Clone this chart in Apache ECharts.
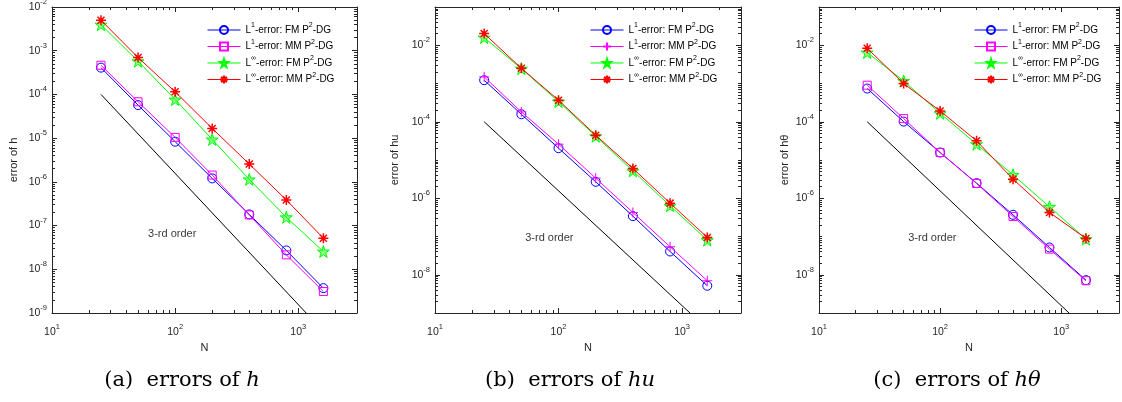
<!DOCTYPE html>
<html>
<head>
<meta charset="utf-8">
<script src="https://cdn.jsdelivr.net/npm/echarts@6/dist/echarts.min.js"></script>
<style>html,body{margin:0;padding:0;background:#fff}#c{width:1122px;height:402px}</style>
</head>
<body>
<div id="c"></div>
<script>
// ---------- data ----------
const N = [25, 50, 100, 200, 400, 800, 1600];
// (a) errors of h
const hL1FM   = [4.1e-4, 5.7e-5, 8.3e-6, 1.2e-6, 1.8e-7, 2.7e-8, 3.7e-9];
const hL1MM   = [4.65e-4, 6.8e-5, 1.04e-5, 1.43e-6, 1.75e-7, 2.14e-8, 3.1e-9];
const hLiFM   = [3.95e-3, 5.75e-4, 7.65e-5, 9.35e-6, 1.14e-6, 1.55e-7, 2.55e-8];
const hLiMM   = [4.97e-3, 6.97e-4, 1.15e-4, 1.67e-5, 2.56e-6, 3.86e-7, 5.14e-8];
// (b) errors of hu
const huL1FM  = [1.22e-3, 1.57e-4, 2.04e-5, 2.69e-6, 3.41e-7, 4.06e-8, 5.15e-9];
const huL1MM  = [1.49e-3, 1.81e-4, 2.59e-5, 3.35e-6, 4.25e-7, 5.38e-8, 6.97e-9];
const huLiFM  = [1.59e-2, 2.45e-3, 3.37e-4, 4.19e-5, 5.2e-6, 6.34e-7, 8.05e-8];
const huLiMM  = [2.02e-2, 2.5e-3, 3.66e-4, 4.45e-5, 6.0e-6, 7.45e-7, 9.45e-8];
// (c) errors of h theta
const htL1FM  = [7.38e-4, 1.01e-4, 1.57e-5, 2.48e-6, 3.69e-7, 5.17e-8, 7.24e-9];
const htL1MM  = [9.02e-4, 1.21e-4, 1.57e-5, 2.43e-6, 3.34e-7, 4.68e-8, 6.97e-9];
const htLiFM  = [6.45e-3, 1.17e-3, 1.67e-4, 2.59e-5, 4.09e-6, 5.97e-7, 8.55e-8];
const htLiMM  = [8.35e-3, 9.97e-4, 1.92e-4, 3.17e-5, 3.16e-6, 4.26e-7, 8.9e-8];
// 3rd-order reference line
const refN   = [25, 1160];
const refErr = [1e-4, 1e-9];
// "3-rd order" annotation anchor (data space)
const orderTextN   = [94.7, 84.3, 86.3];
const orderTextErr = [6.4e-8, 9.1e-8, 9.1e-8];

// ---------- ticks / labels ----------
const xTicks = [10, 100, 1000];
const xTickExp = ['1', '2', '3'];
const yTicksA = [1e-9, 1e-8, 1e-7, 1e-6, 1e-5, 1e-4, 1e-3, 1e-2];
const yTickExpA = ['-9', '-8', '-7', '-6', '-5', '-4', '-3', '-2'];
const yTicksBC = [1e-8, 1e-6, 1e-4, 1e-2];
const yTickExpBC = ['-8', '-6', '-4', '-2'];
const yLabels = ['error of h', 'error of hu', 'error of h\u03b8'];
const xLabel = 'N';
const captions = [
  '{r|(a)  errors of }{i|h}',
  '{r|(b)  errors of }{i|hu}',
  '{r|(c)  errors of }{i|h\u03b8}'
];
const legendText = [
  '{b|L}{e|1}{b|-error: FM P}{e|2}{b|-DG}',
  '{b|L}{e|1}{b|-error: MM P}{e|2}{b|-DG}',
  '{b|L}{e|\u221e}{b|-error: FM P}{e|2}{b|-DG}',
  '{b|L}{e|\u221e}{b|-error: MM P}{e|2}{b|-DG}'
];

function minorTicks(loExp, hiExp, max, skipMajors) {
  const out = [];
  for (let e = loExp; e < hiExp; e++) {
    for (let m = 1; m <= 9; m++) {
      const v = parseFloat((m * Math.pow(10, e)).toPrecision(6));
      if (v > max) continue;
      if (skipMajors.some(t => Math.abs(t - v) / v < 1e-9)) continue;
      out.push(v);
    }
  }
  return out;
}
const xMinor = minorTicks(1, 4, 3000, xTicks);
const yMinorA = minorTicks(-9, -2, 1e-2, yTicksA);
const yMinorBC = minorTicks(-9, -1, 1e-1, yTicksBC);

// ---------- styling ----------
const AX = '#262626';
const FONT = '"Liberation Sans", Arial, sans-serif';
const richTick = {
  b: { fontSize: 10.5, lineHeight: 18, color: AX, fontFamily: FONT },
  e: { fontSize: 7.5, lineHeight: 8, verticalAlign: 'top', color: AX, fontFamily: FONT }
};
const grids = [
  { left: 52, top: 7, width: 305, height: 306 },
  { left: 435, top: 7, width: 306, height: 306 },
  { left: 819, top: 7, width: 300, height: 306 }
];
const yRanges = [[1e-9, 1e-2], [1e-9, 1e-1], [1e-9, 1e-1]];
const yMaj = [yTicksA, yTicksBC, yTicksBC];
const yExp = [yTickExpA, yTickExpBC, yTickExpBC];
const yMin = [yMinorA, yMinorBC, yMinorBC];
const yNameGap = [33, 35, 29];

const xAxes = [], yAxes = [];
function mkAxis(kind, g, pos, ticks, isMajor, withLabel, range, extra) {
  const ax = {
    type: 'log', logBase: 10, gridIndex: g, position: pos,
    min: range[0], max: range[1],
    splitLine: { show: false },
    axisLine: { show: isMajor, onZero: false, lineStyle: { color: AX, width: 1 } },
    axisTick: { show: true, inside: true, length: isMajor ? 5 : 3, customValues: ticks,
                lineStyle: { color: AX, width: 1 } },
    axisLabel: { show: false },
    silent: true
  };
  if (withLabel) {
    ax.axisLabel = {
      show: true, customValues: ticks, margin: kind === 'x' ? 10 : 5,
      formatter: extra.fmt, rich: richTick
    };
  }
  return Object.assign(ax, extra.more || {});
}
for (let g = 0; g < 3; g++) {
  const xr = [10, 3000];
  const xfmt = (v) => { const i = xTicks.findIndex(t => Math.abs(t - v) / t < 1e-6); return '{b|10}{e|' + xTickExp[i] + '}'; };
  const yT = yMaj[g], yE = yExp[g];
  const yfmt = (v) => { const i = yT.findIndex(t => Math.abs(t - v) / t < 1e-6); return '{b|10}{e|' + yE[i] + '}'; };
  xAxes.push(mkAxis('x', g, 'bottom', xTicks, true, true, xr, { fmt: xfmt, more: {
    name: xLabel, nameLocation: 'middle', nameGap: 28,
    nameTextStyle: { fontSize: 11, color: AX, fontFamily: FONT } } }));
  xAxes.push(mkAxis('x', g, 'bottom', xMinor, false, false, xr, {}));
  xAxes.push(mkAxis('x', g, 'top', xTicks, true, false, xr, {}));
  xAxes.push(mkAxis('x', g, 'top', xMinor, false, false, xr, {}));
  yAxes.push(mkAxis('y', g, 'left', yT, true, true, yRanges[g], { fmt: yfmt, more: {
    name: yLabels[g], nameLocation: 'middle', nameGap: yNameGap[g],
    nameTextStyle: { fontSize: 11, color: AX, fontFamily: FONT } } }));
  yAxes.push(mkAxis('y', g, 'left', yMin[g], false, false, yRanges[g], {}));
  yAxes.push(mkAxis('y', g, 'right', yT, true, false, yRanges[g], {}));
  yAxes.push(mkAxis('y', g, 'right', yMin[g], false, false, yRanges[g], {}));
}

const STAR = 'path://M0,-1L0.2245,-0.309L0.951,-0.309L0.363,0.118L0.588,0.809L0,0.382L-0.588,0.809L-0.363,0.118L-0.951,-0.309L-0.2245,-0.309Z';
const ASTER = 'path://M0,-1L0,1M-1,0L1,0M-0.7,-0.7L0.7,0.7M-0.7,0.7L0.7,-0.7';
const PLUS = 'path://M0,-1L0,1M-1,0L1,0';
const markers = {
  circle: { symbol: 'circle', size: 9, fill: 'rgba(0,0,0,0)', bw: 1 },
  square: { symbol: 'rect', size: 8, fill: 'rgba(0,0,0,0)', bw: 1 },
  plus:   { symbol: PLUS, size: 10, fill: 'rgba(0,0,0,0)', bw: 1 },
  star:   { symbol: STAR, size: 12, fill: 'rgba(0,255,0,0.45)', bw: 1 },
  aster:  { symbol: ASTER, size: 10, fill: 'rgba(0,0,0,0)', bw: 1.5 }
};
const panelSeries = [
  [[hL1FM, '#0000ff', 'circle'], [hL1MM, '#ff00ff', 'square'], [hLiFM, '#00ff00', 'star'], [hLiMM, '#ff0000', 'aster']],
  [[huL1FM, '#0000ff', 'circle'], [huL1MM, '#ff00ff', 'plus'], [huLiFM, '#00ff00', 'star'], [huLiMM, '#ff0000', 'aster']],
  [[htL1FM, '#0000ff', 'circle'], [htL1MM, '#ff00ff', 'square'], [htLiFM, '#00ff00', 'star'], [htLiMM, '#ff0000', 'aster']]
];
const series = [];
const legends = [];
const legendLeft = [207, 590, 974];
const nameToText = {};
for (let g = 0; g < 3; g++) {
  // reference line
  series.push({
    type: 'line', xAxisIndex: 4 * g, yAxisIndex: 4 * g, silent: true,
    data: refN.map((n, i) => [n, refErr[i]]), showSymbol: false, symbol: 'none',
    lineStyle: { color: '#000', width: 1 }, z: 2
  });
  series.push({
    type: 'scatter', xAxisIndex: 4 * g, yAxisIndex: 4 * g, silent: true,
    data: [[orderTextN[g], orderTextErr[g]]], symbolSize: 0,
    label: { show: true, position: 'inside', formatter: '3-rd order', color: '#000',
             fontSize: 11, fontFamily: FONT }
  });
  const names = [];
  panelSeries[g].forEach((s, k) => {
    const nm = 'p' + g + 's' + k;
    const mk = markers[s[2]];
    names.push(nm);
    nameToText[nm] = legendText[k];
    series.push({
      type: 'line', name: nm, xAxisIndex: 4 * g, yAxisIndex: 4 * g,
      data: N.map((n, i) => [n, s[0][i]]),
      color: s[1], symbol: mk.symbol, symbolSize: mk.size, showSymbol: true,
      lineStyle: { color: s[1], width: 1 },
      itemStyle: { color: mk.fill, borderColor: s[1], borderWidth: mk.bw },
      z: 3 + k
    });
  });
  legends.push({
    show: true, orient: 'vertical', left: legendLeft[g], top: 22, padding: 0,
    data: names, itemWidth: 33, itemHeight: 10, itemGap: 3.5, selectedMode: false,
    lineStyle: { width: 1 },
    formatter: (n) => nameToText[n],
    textStyle: { color: '#000', fontFamily: FONT, rich: {
      b: { fontSize: 10, lineHeight: 16, color: '#000', fontFamily: FONT },
      e: { fontSize: 7, lineHeight: 8, verticalAlign: 'top', color: '#000', fontFamily: FONT }
    } }
  });
}

const titleCenters = [182, 570, 957];
const CAPFONT = '"DejaVu Serif", serif';
const titles = captions.map((c, i) => ({
  text: c, left: titleCenters[i], top: 370, textAlign: 'center', padding: 0,
  textStyle: { fontWeight: 'normal', rich: {
    r: { fontFamily: CAPFONT, fontSize: 21, fontWeight: 'normal', color: '#000' },
    i: { fontFamily: CAPFONT, fontSize: 21, fontWeight: 'normal', fontStyle: 'italic', color: '#000' }
  } }
}));

const chart = echarts.init(document.getElementById('c'), null, { renderer: 'canvas' });
chart.setOption({
  animation: false,
  backgroundColor: '#fff',
  title: titles,
  grid: grids.map(gr => Object.assign({ outerBoundsMode: 'none', containLabel: false }, gr)),
  xAxis: xAxes,
  yAxis: yAxes,
  legend: legends,
  series: series
});
</script>
</body>
</html>
